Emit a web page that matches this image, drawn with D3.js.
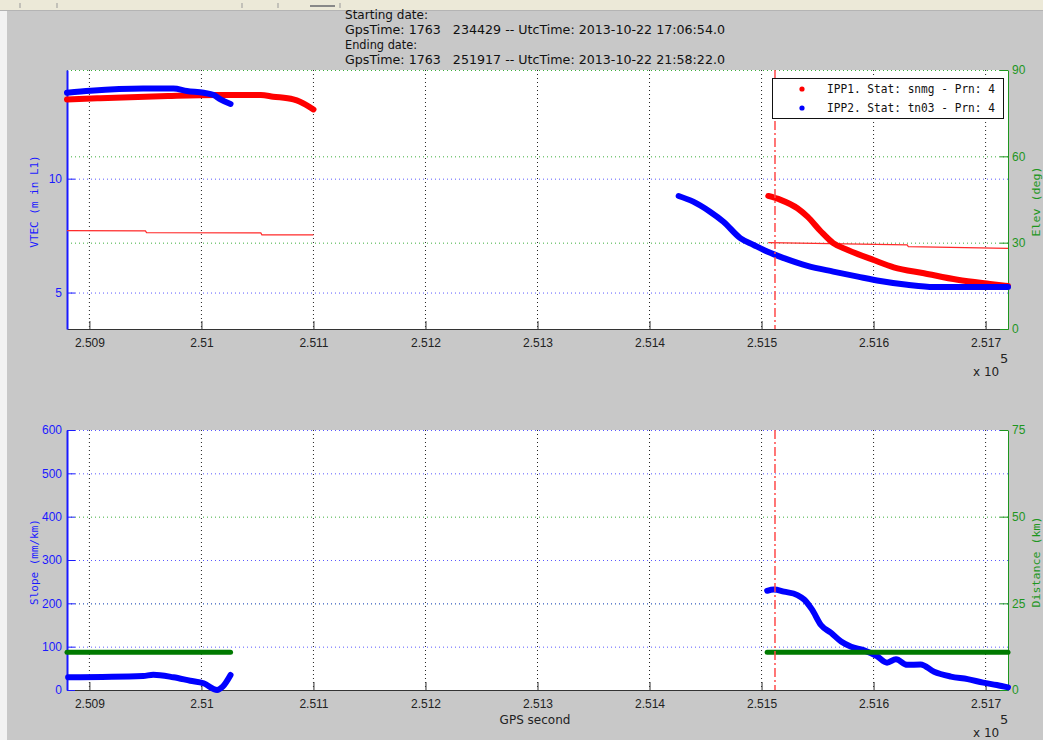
<!DOCTYPE html>
<html lang="en">
<head>
    <meta charset="UTF-8">
    <title>VTEC / Slope vs GPS second</title>
    <script src="https://d3js.org/d3.v7.min.js"></script>
    <style>
        body { margin: 0; background: #c8c8c8; }
        svg { display: block; font-family: "DejaVu Sans", sans-serif; }
        .grid { fill: none; stroke-width: 1; stroke-dasharray: 1,3; }
        .mono { font-family: "DejaVu Sans Mono", monospace; }
    </style>
</head>
<body>
    <script>
        // header lines
        const headerLines = [
            "Starting date:",
            "GpsTime: 1763   234429 -- UtcTime: 2013-10-22 17:06:54.0",
            "Ending date:",
            "GpsTime: 1763   251917 -- UtcTime: 2013-10-22 21:58:22.0"
        ];
        const legendLabels = ["IPP1. Stat: snmg - Prn: 4", "IPP2. Stat: tn03 - Prn: 4"];

        // x ticks (GPS second)
        const gpsTicks = [250900, 251000, 251100, 251200, 251300, 251400, 251500, 251600, 251700];
        const vtecTicks = [5, 10];
        const elevTicks = [0, 30, 60, 90];
        const slopeTicks = [0, 100, 200, 300, 400, 500, 600];
        const distTicks = [0, 25, 50, 75];

        // [gps second, value]
        const vtecIpp1A = [[250880, 13.48], [250907, 13.53], [250970, 13.63], [251014, 13.67], [251053, 13.67],
            [251064, 13.60], [251082, 13.48], [251088, 13.38], [251100, 13.04]];
        const vtecIpp1B = [[251506, 9.24], [251517, 9.07], [251532, 8.70], [251541, 8.33], [251553, 7.68],
            [251564, 7.17], [251577, 6.87], [251600, 6.43], [251618, 6.11], [251645, 5.85], [251675, 5.56],
            [251704, 5.38], [251720, 5.29]];
        const vtecIpp2A = [[250880, 13.77], [250901, 13.86], [250948, 13.96], [250975, 13.96], [250987, 13.85],
            [251002, 13.77], [251011, 13.67], [251017, 13.48], [251026, 13.28]];
        const vtecIpp2B = [[251426, 9.24], [251439, 8.99], [251454, 8.55], [251466, 8.11], [251481, 7.39],
            [251493, 7.09], [251505, 6.80], [251520, 6.51], [251541, 6.17], [251564, 5.92], [251586, 5.70],
            [251606, 5.51], [251630, 5.34], [251654, 5.24], [251689, 5.24], [251720, 5.24]];
        const elevIpp1A = [[250880, 34.2], [250950, 34.1], [250951, 33.5], [251053, 33.4], [251054, 32.7], [251100, 32.7]];
        const elevIpp1B = [[251506, 30.0], [251630, 29.2], [251631, 28.6], [251720, 28.0]];

        const slopeA = [[250881, 29.3], [250948, 32.3], [250957, 35.3], [250975, 29.3], [250990, 21.5],
            [251002, 15.5], [251014, 0], [251019, 7.6], [251026, 34.6]];
        const slopeB = [[251505, 229], [251511, 232], [251520, 227], [251532, 219], [251538, 209], [251545, 186],
            [251553, 150], [251562, 132], [251571, 112], [251580, 100], [251591, 92], [251603, 78], [251612, 63],
            [251620, 71], [251630, 58], [251642, 59], [251654, 42], [251669, 31], [251684, 25], [251698, 17],
            [251710, 11.5], [251720, 6]];
        const distA = [[250880, 10.9], [251026, 10.9]];
        const distB = [[251505, 10.9], [251720, 10.9]];
        const markerGps = 251512;

        const w = 1043, h = 740;
        const left = 67, right = 1008;
        const top1 = 70, bot1 = 329, top2 = 430, bot2 = 690;
        const blue = "#1a1aff", green = "#1e961e";

        const svg = d3.select("body").append("svg").attr("width", w).attr("height", h);
        svg.append("rect").attr("width", w).attr("height", h).attr("fill", "#c8c8c8");
        svg.append("rect").attr("width", 7).attr("y", 11).attr("height", h).attr("fill", "#f2f2f2");
        // toolbar strip
        svg.append("rect").attr("width", w).attr("height", 10).attr("fill", "#ece9d8");
        svg.append("line").attr("x1", 0).attr("x2", w).attr("y1", 10.5).attr("y2", 10.5).attr("stroke", "#b4b4b4");
        [20, 57, 242, 278, 340].forEach(x => svg.append("line").attr("x1", x).attr("x2", x)
            .attr("y1", 3).attr("y2", 8).attr("stroke", "#999"));
        svg.append("line").attr("x1", 310).attr("x2", 335).attr("y1", 6).attr("y2", 6).attr("stroke", "#888").attr("stroke-width", 2);

        // header text
        svg.selectAll("text.hdr").data(headerLines).enter().append("text")
            .attr("class", "hdr")
            .attr("x", 345)
            .attr("y", (d, i) => 19 + i * 15)
            .attr("font-size", 12)
            .attr("fill", "#111")
            .style("white-space", "pre")
            .attr("textLength", d => d.length > 20 ? 380 : (d.length === 14 ? 83 : 72))
            .attr("lengthAdjust", "spacingAndGlyphs")
            .text(d => d);

        const x = d3.scaleLinear().domain([250880, 251720]).range([left, right]);
        const fmtX = d => String(+(d / 1e5).toFixed(3));

        function panel(y0, y1, yL, yR, lTicks, rTicks, lLabel, rLabel, lGridCol) {
            const g = svg.append("g");
            g.append("rect").attr("x", left).attr("y", y0).attr("width", right - left).attr("height", y1 - y0).attr("fill", "#fff");

            // vertical grid
            g.selectAll("line.vg").data(gpsTicks).enter().append("line")
                .attr("class", "grid").attr("stroke", "#222")
                .attr("x1", d => x(d)).attr("x2", d => x(d)).attr("y1", y0).attr("y2", y1);
            // right axis grid (green)
            g.selectAll("line.rg").data(rTicks.filter(d => d > 0)).enter().append("line")
                .attr("class", "grid").attr("stroke", "#3cae3c")
                .attr("x1", left).attr("x2", right).attr("y1", d => yR(d) + 0.5).attr("y2", d => yR(d) + 0.5);
            // left axis grid (blue)
            g.selectAll("line.lg").data(lTicks.filter(d => d > yL.domain()[0] + 1e-9 && lGridCol(d))).enter().append("line")
                .attr("class", "grid").attr("stroke", "#5a5aff")
                .attr("x1", left).attr("x2", right).attr("y1", d => yL(d) + 0.5).attr("y2", d => yL(d) + 0.5);

            // axes
            const ax = g.append("g").attr("transform", `translate(0,${y1})`)
                .call(d3.axisBottom(x).tickValues(gpsTicks).tickFormat(fmtX).tickSizeInner(-8).tickSizeOuter(0).tickPadding(9));
            ax.select(".domain").attr("stroke", "#333");
            ax.selectAll(".tick line").attr("stroke", "#333");
            ax.selectAll("text").attr("font-size", 12).attr("fill", "#222");

            const al = g.append("g").attr("transform", `translate(${left},0)`)
                .call(d3.axisLeft(yL).tickValues(lTicks).tickSizeInner(-8).tickSizeOuter(0).tickPadding(5));
            al.select(".domain").attr("stroke", blue).attr("stroke-width", 2);
            al.selectAll(".tick line").attr("stroke", blue);
            al.selectAll("text").attr("font-size", 12).attr("fill", blue);

            const ar = g.append("g").attr("transform", `translate(${right},0)`)
                .call(d3.axisRight(yR).tickValues(rTicks).tickSizeInner(-8).tickSizeOuter(0).tickPadding(4));
            ar.select(".domain").attr("stroke", green);
            ar.selectAll(".tick line").attr("stroke", green);
            ar.selectAll("text").attr("font-size", 12).attr("fill", green);

            const cy = (y0 + y1) / 2 + 2;
            g.append("text").attr("class", "mono").attr("transform", `translate(38,${cy}) rotate(-90)`)
                .attr("text-anchor", "middle").attr("font-size", 11).attr("fill", blue)
                .attr("textLength", lLabel.length * 6.6).attr("lengthAdjust", "spacingAndGlyphs").text(lLabel);
            g.append("text").attr("class", "mono").attr("transform", `translate(1040,${cy}) rotate(-90)`)
                .attr("text-anchor", "middle").attr("font-size", 11).attr("fill", green)
                .attr("textLength", rLabel.length * 7).attr("lengthAdjust", "spacingAndGlyphs").text(rLabel);

            // exponent
            g.append("text").attr("x", 973).attr("y", y1 + 47).attr("font-size", 12).attr("fill", "#222").text("x 10");
            g.append("text").attr("x", 1000).attr("y", y1 + 34).attr("font-size", 13).attr("fill", "#222").text("5");
            return g;
        }

        // top panel
        const yVtec = d3.scaleLinear().domain([3.4, 14.77]).range([bot1, top1]);
        const yElev = d3.scaleLinear().domain([0, 90]).range([bot1, top1]);
        const g1 = panel(top1, bot1, yVtec, yElev, vtecTicks, elevTicks, "VTEC (m in L1)", "Elev (deg)", () => true);

        const lineV = d3.line().x(d => x(d[0])).y(d => yVtec(d[1])).curve(d3.curveMonotoneX);
        const lineE = d3.line().x(d => x(d[0])).y(d => yElev(d[1]));
        [elevIpp1A, elevIpp1B].forEach(s => g1.append("path").datum(s).attr("d", lineE)
            .attr("fill", "none").attr("stroke", "#ff2a2a").attr("stroke-width", 1.2));
        [vtecIpp1A, vtecIpp1B].forEach(s => g1.append("path").datum(s).attr("d", lineV)
            .attr("fill", "none").attr("stroke", "#ff0000").attr("stroke-width", 6).attr("stroke-linecap", "round"));
        [vtecIpp2A, vtecIpp2B].forEach(s => g1.append("path").datum(s).attr("d", lineV)
            .attr("fill", "none").attr("stroke", "#0000ff").attr("stroke-width", 6).attr("stroke-linecap", "round"));

        // bottom panel
        const ySlope = d3.scaleLinear().domain([0, 600]).range([bot2, top2]);
        const yDist = d3.scaleLinear().domain([0, 75]).range([bot2, top2]);
        const g2 = panel(top2, bot2, ySlope, yDist, slopeTicks, distTicks, "Slope (mm/km)", "Distance (km)", d => d % 200 !== 0 || d === 200 || d === 600);

        const lineS = d3.line().x(d => x(d[0])).y(d => ySlope(d[1])).curve(d3.curveMonotoneX);
        const lineD = d3.line().x(d => x(d[0])).y(d => yDist(d[1]));
        [slopeA, slopeB].forEach(s => g2.append("path").datum(s).attr("d", lineS)
            .attr("fill", "none").attr("stroke", "#0000ff").attr("stroke-width", 6).attr("stroke-linecap", "round"));
        [distA, distB].forEach(s => g2.append("path").datum(s).attr("d", lineD)
            .attr("fill", "none").attr("stroke", "#007a00").attr("stroke-width", 5).attr("stroke-linecap", "round"));

        g2.append("text").attr("x", 535).attr("y", 724).attr("text-anchor", "middle")
            .attr("font-size", 12).attr("fill", "#222").text("GPS second");

        // red dash-dot marker
        [[top1, bot1], [top2, bot2]].forEach(([a, b]) => svg.append("line")
            .attr("x1", x(markerGps)).attr("x2", x(markerGps)).attr("y1", a).attr("y2", b)
            .attr("stroke", "#ff4a4a").attr("stroke-width", 1.5).attr("stroke-dasharray", "9,3,2,3"));

        // legend
        const lg = svg.append("g");
        lg.append("rect").attr("x", 772.5).attr("y", 78.5).attr("width", 231).attr("height", 40)
            .attr("fill", "#fff").attr("stroke", "#111");
        lg.selectAll("circle").data(legendLabels).enter().append("circle")
            .attr("cx", 802).attr("cy", (d, i) => 89 + i * 19).attr("r", 2.6)
            .attr("fill", (d, i) => i ? "#0000ff" : "#ff0000");
        lg.selectAll("text").data(legendLabels).enter().append("text")
            .attr("class", "mono")
            .attr("x", 827).attr("y", (d, i) => 93 + i * 19).attr("font-size", 12).attr("fill", "#111")
            .attr("textLength", 168).attr("lengthAdjust", "spacingAndGlyphs").text(d => d);
    </script>
</body>
</html>
